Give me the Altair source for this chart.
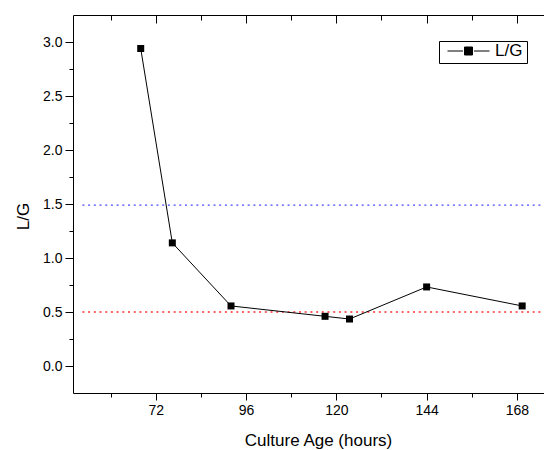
import altair as alt
import pandas as pd

# culture age (hours) and L/G ratio
hours = [68, 76.4, 92, 117, 123.5, 144, 169.4]
ratio = [2.94, 1.14, 0.556, 0.46, 0.435, 0.732, 0.556]
series = ["L/G"] * len(hours)

# dotted reference levels
upper_level = [1.49]
lower_level = [0.5]
ref_from = [52.5]
ref_to = [175.2]

x_ticks = [60, 72, 84, 96, 108, 120, 132, 144, 156, 168]
y_ticks = [0, 0.25, 0.5, 0.75, 1.0, 1.25, 1.5, 1.75, 2.0, 2.25, 2.5, 2.75, 3.0]

W, H = 471, 378
FONT = "Liberation Sans"

df = pd.DataFrame({"hours": hours, "ratio": ratio, "series": series})
upper = pd.DataFrame({"level": upper_level, "x0": ref_from, "x1": ref_to})
lower = pd.DataFrame({"level": lower_level, "x0": ref_from, "x1": ref_to})

x_scale = alt.Scale(domain=[50, 175.2], nice=False, zero=False)
y_scale = alt.Scale(domain=[-0.25, 3.25], nice=False, zero=False)

major_x = "datum.value % 24 === 0"
major_y = "(datum.value * 2) % 1 === 0"

bottom_axis = alt.Axis(
    orient="bottom", values=x_ticks, format="d",
    labelExpr=f"{major_x} ? datum.label : ''",
    tickSize={"condition": {"test": major_x, "value": 7}, "value": 4},
    labelPadding=3, labelOverlap=False, labelFlush=False,
    title="Culture Age (hours)", titleX=245, titleY=52,
    titleBaseline="alphabetic", titleAlign="center",
)
# top frame: a second bottom axis pushed up to the top edge so ticks point inward
top_axis = alt.Axis(
    orient="bottom", offset=-H, values=x_ticks, labels=False, title=None,
    tickSize={"condition": {"test": major_x, "value": 8}, "value": 5},
)
left_axis = alt.Axis(
    orient="left", values=y_ticks, format=".1f",
    labelExpr=f"{major_y} ? datum.label : ''",
    tickSize={"condition": {"test": major_y, "value": 8}, "value": 4},
    labelPadding=3, labelOverlap=False, labelFlush=False,
    title="L/G", titleX=-45, titleY=201, titleAngle=270,
    titleBaseline="alphabetic", titleAlign="center",
)

legend_symbol = ("M-0.84,0L-0.22,0M0.22,0L0.84,0"
                 "M-0.16,-0.16L0.16,-0.16L0.16,0.16L-0.16,0.16Z")

ref_upper = alt.Chart(upper).mark_rule(
    color="#4848ff", strokeWidth=1.3, strokeDash=[2, 3.7]
).encode(
    x=alt.X("x0:Q", scale=x_scale, axis=None),
    x2="x1:Q",
    y=alt.Y("level:Q", scale=y_scale, axis=left_axis),
)
ref_lower = alt.Chart(lower).mark_rule(
    color="#ff3030", strokeWidth=1.3, strokeDash=[2, 3.7]
).encode(
    x=alt.X("x0:Q", scale=x_scale, axis=None),
    x2="x1:Q",
    y=alt.Y("level:Q", scale=y_scale, axis=left_axis),
)

line = alt.Chart(df).mark_line(color="black", strokeWidth=1).encode(
    x=alt.X("hours:Q", scale=x_scale, axis=bottom_axis),
    y=alt.Y("ratio:Q", scale=y_scale, axis=left_axis),
)

points = alt.Chart(df).mark_point(
    shape="square", filled=True, size=49, opacity=1
).encode(
    x=alt.X("hours:Q", scale=x_scale, axis=top_axis),
    y=alt.Y("ratio:Q", scale=y_scale, axis=left_axis),
    color=alt.Color(
        "series:N", scale=alt.Scale(range=["black"]),
        legend=alt.Legend(
            title=None, orient="none", legendX=366, legendY=26,
            symbolType=legend_symbol, symbolSize=2500,
            symbolStrokeColor="black", symbolStrokeWidth=1,
            labelFont=FONT, labelFontSize=17, labelColor="black", labelOffset=1,
            labelExpr="datum.label + ' '",
            padding=4, clipHeight=12,
            strokeColor="black", fillColor="white",
        ),
    ),
)

chart = alt.layer(ref_upper, ref_lower, line, points).resolve_axis(
    x="independent"
).properties(
    width=W, height=H,
    padding={"left": 65, "top": 7, "right": 0, "bottom": 56},
    autosize=alt.AutoSizeParams(type="none"),
    background="white",
).configure_view(
    strokeWidth=0
).configure_axis(
    grid=False, domainColor="black", domainWidth=1, tickColor="black", tickWidth=1,
    labelFont=FONT, labelFontSize=14, labelColor="black",
    titleFont=FONT, titleFontSize=17, titleFontWeight="normal", titleColor="black",
)

chart.save("out.html", embed_options={"renderer": "svg", "actions": False})
